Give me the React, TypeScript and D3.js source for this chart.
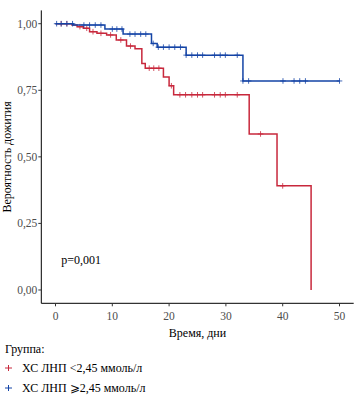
import { useEffect } from "react"
import * as d3 from "d3"

// Kaplan–Meier steps
const redTimes = [0, 2.9, 3.8, 4.9, 6, 7.3, 9, 10.7, 12.5, 14, 15.2, 15.8, 19, 20, 20.8, 34.1, 39, 45]
const redSurv = [1, 0.995, 0.989, 0.983, 0.97, 0.964, 0.958, 0.939, 0.916, 0.906, 0.851, 0.833, 0.8, 0.767, 0.733, 0.586, 0.391, 0]
const redCensor = [1, 2, 4.3, 5.5, 6.6, 8, 9.7, 11.5, 13.2, 16.5, 17.3, 18.2, 20.4, 21.9, 22.9, 24, 25, 25.9, 28, 29, 29.9, 32, 36.1, 40]
const redEnd = 45

const blueTimes = [0, 3.1, 8.7, 11.9, 16.9, 17.9, 23, 33]
const blueSurv = [1, 0.995, 0.98, 0.961, 0.926, 0.912, 0.882, 0.785]
const blueCensor = [0.2, 1, 2, 3, 5, 6, 7, 8, 10, 10.8, 11.7, 13.1, 14, 15, 15.9, 17.2, 18.1, 19, 20, 21, 22, 23, 24, 25, 25.9, 28, 29, 29.9, 32, 33, 34, 40.05, 42, 43, 44, 50]
const blueEnd = 50

const xTicks = [0, 10, 20, 30, 40, 50]
const yTicks = [0, 0.25, 0.5, 0.75, 1]

const RED = "#c8283c"
const BLUE = "#1444a6"
const FONT = "'Liberation Serif', 'Times New Roman', serif"

type Series = { times: number[]; surv: number[]; censor: number[]; end: number; color: string; label: string }

const series: Series[] = [
  { times: redTimes, surv: redSurv, censor: redCensor, end: redEnd, color: RED, label: "ХС ЛНП <2,45 ммоль/л" },
  { times: blueTimes, surv: blueSurv, censor: blueCensor, end: blueEnd, color: BLUE, label: "ХС ЛНП ⩾2,45 ммоль/л" },
]

function survAt(s: Series, t: number) {
  let v = s.surv[0]
  s.times.forEach((tt, i) => {
    if (tt <= t) v = s.surv[i]
  })
  return v
}

export default function App() {
  useEffect(() => {
    document.body.style.margin = "0"
  }, [])

  const x = d3.scaleLinear().domain([-2.5, 52.5]).range([41.3, 353.7])
  const y = d3.scaleLinear().domain([-0.05, 1.05]).range([303.3, 10.4])

  const line = d3
    .line<[number, number]>()
    .x((d) => x(d[0]))
    .y((d) => y(d[1]))
    .curve(d3.curveStepAfter)

  return (
    <svg width={362} height={399} style={{ display: "block", background: "#fff" }} fontFamily={FONT}>
      {/* curves */}
      {series.map((s) => {
        const pts: [number, number][] = s.times.map((t, i) => [t, s.surv[i]])
        if (s.end > s.times[s.times.length - 1]) pts.push([s.end, s.surv[s.surv.length - 1]])
        return (
          <g key={s.label}>
            <path d={line(pts) ?? undefined} fill="none" stroke={s.color} strokeWidth={1.5} />
            {s.censor.map((t, i) => {
              const cx = x(t)
              const cy = y(survAt(s, t))
              return (
                <g key={i} stroke={s.color} strokeWidth={1} strokeOpacity={0.8}>
                  <line x1={cx} x2={cx} y1={cy - 2.8} y2={cy + 2.8} />
                  <line x1={cx - 2.8} x2={cx + 2.8} y1={cy} y2={cy} />
                </g>
              )
            })}
          </g>
        )
      })}

      {/* axes */}
      <line x1={x.range()[0]} x2={x.range()[0]} y1={y.range()[1]} y2={y.range()[0]} stroke="#000" strokeWidth={1} />
      <line x1={x.range()[0]} x2={x.range()[1]} y1={y.range()[0]} y2={y.range()[0]} stroke="#000" strokeWidth={1} />
      {yTicks.map((t) => (
        <g key={t}>
          <line x1={x.range()[0] - 3} x2={x.range()[0]} y1={y(t)} y2={y(t)} stroke="#333" />
          <text x={x.range()[0] - 4} y={y(t) + 4} textAnchor="end" fontSize={11.5} fill="#4d4d4d">
            {d3.format(".2f")(t).replace(".", ",")}
          </text>
        </g>
      ))}
      {xTicks.map((t) => (
        <g key={t}>
          <line x1={x(t)} x2={x(t)} y1={y.range()[0]} y2={y.range()[0] + 3} stroke="#333" />
          <text x={x(t)} y={320} textAnchor="middle" fontSize={11.5} fill="#4d4d4d">
            {t}
          </text>
        </g>
      ))}

      <text x={(x.range()[0] + x.range()[1]) / 2} y={337} textAnchor="middle" fontSize={12}>
        Время, дни
      </text>
      <text transform={`translate(11,${(y.range()[0] + y.range()[1]) / 2}) rotate(-90)`} textAnchor="middle" fontSize={12}>
        Вероятность дожития
      </text>

      <text x={x(1)} y={264} fontSize={12}>
        p=0,001
      </text>

      {/* legend */}
      <text x={5} y={353} fontSize={12}>
        Группа:
      </text>
      {series.map((s, i) => (
        <g key={s.label} transform={`translate(0,${368 + i * 20})`}>
          <line x1={5} x2={12} y1={0} y2={0} stroke={s.color} strokeWidth={1} />
          <line x1={8.5} x2={8.5} y1={-3} y2={3} stroke={s.color} strokeWidth={1} />
          <text x={22} y={4} fontSize={12}>
            {s.label}
          </text>
        </g>
      ))}
    </svg>
  )
}
